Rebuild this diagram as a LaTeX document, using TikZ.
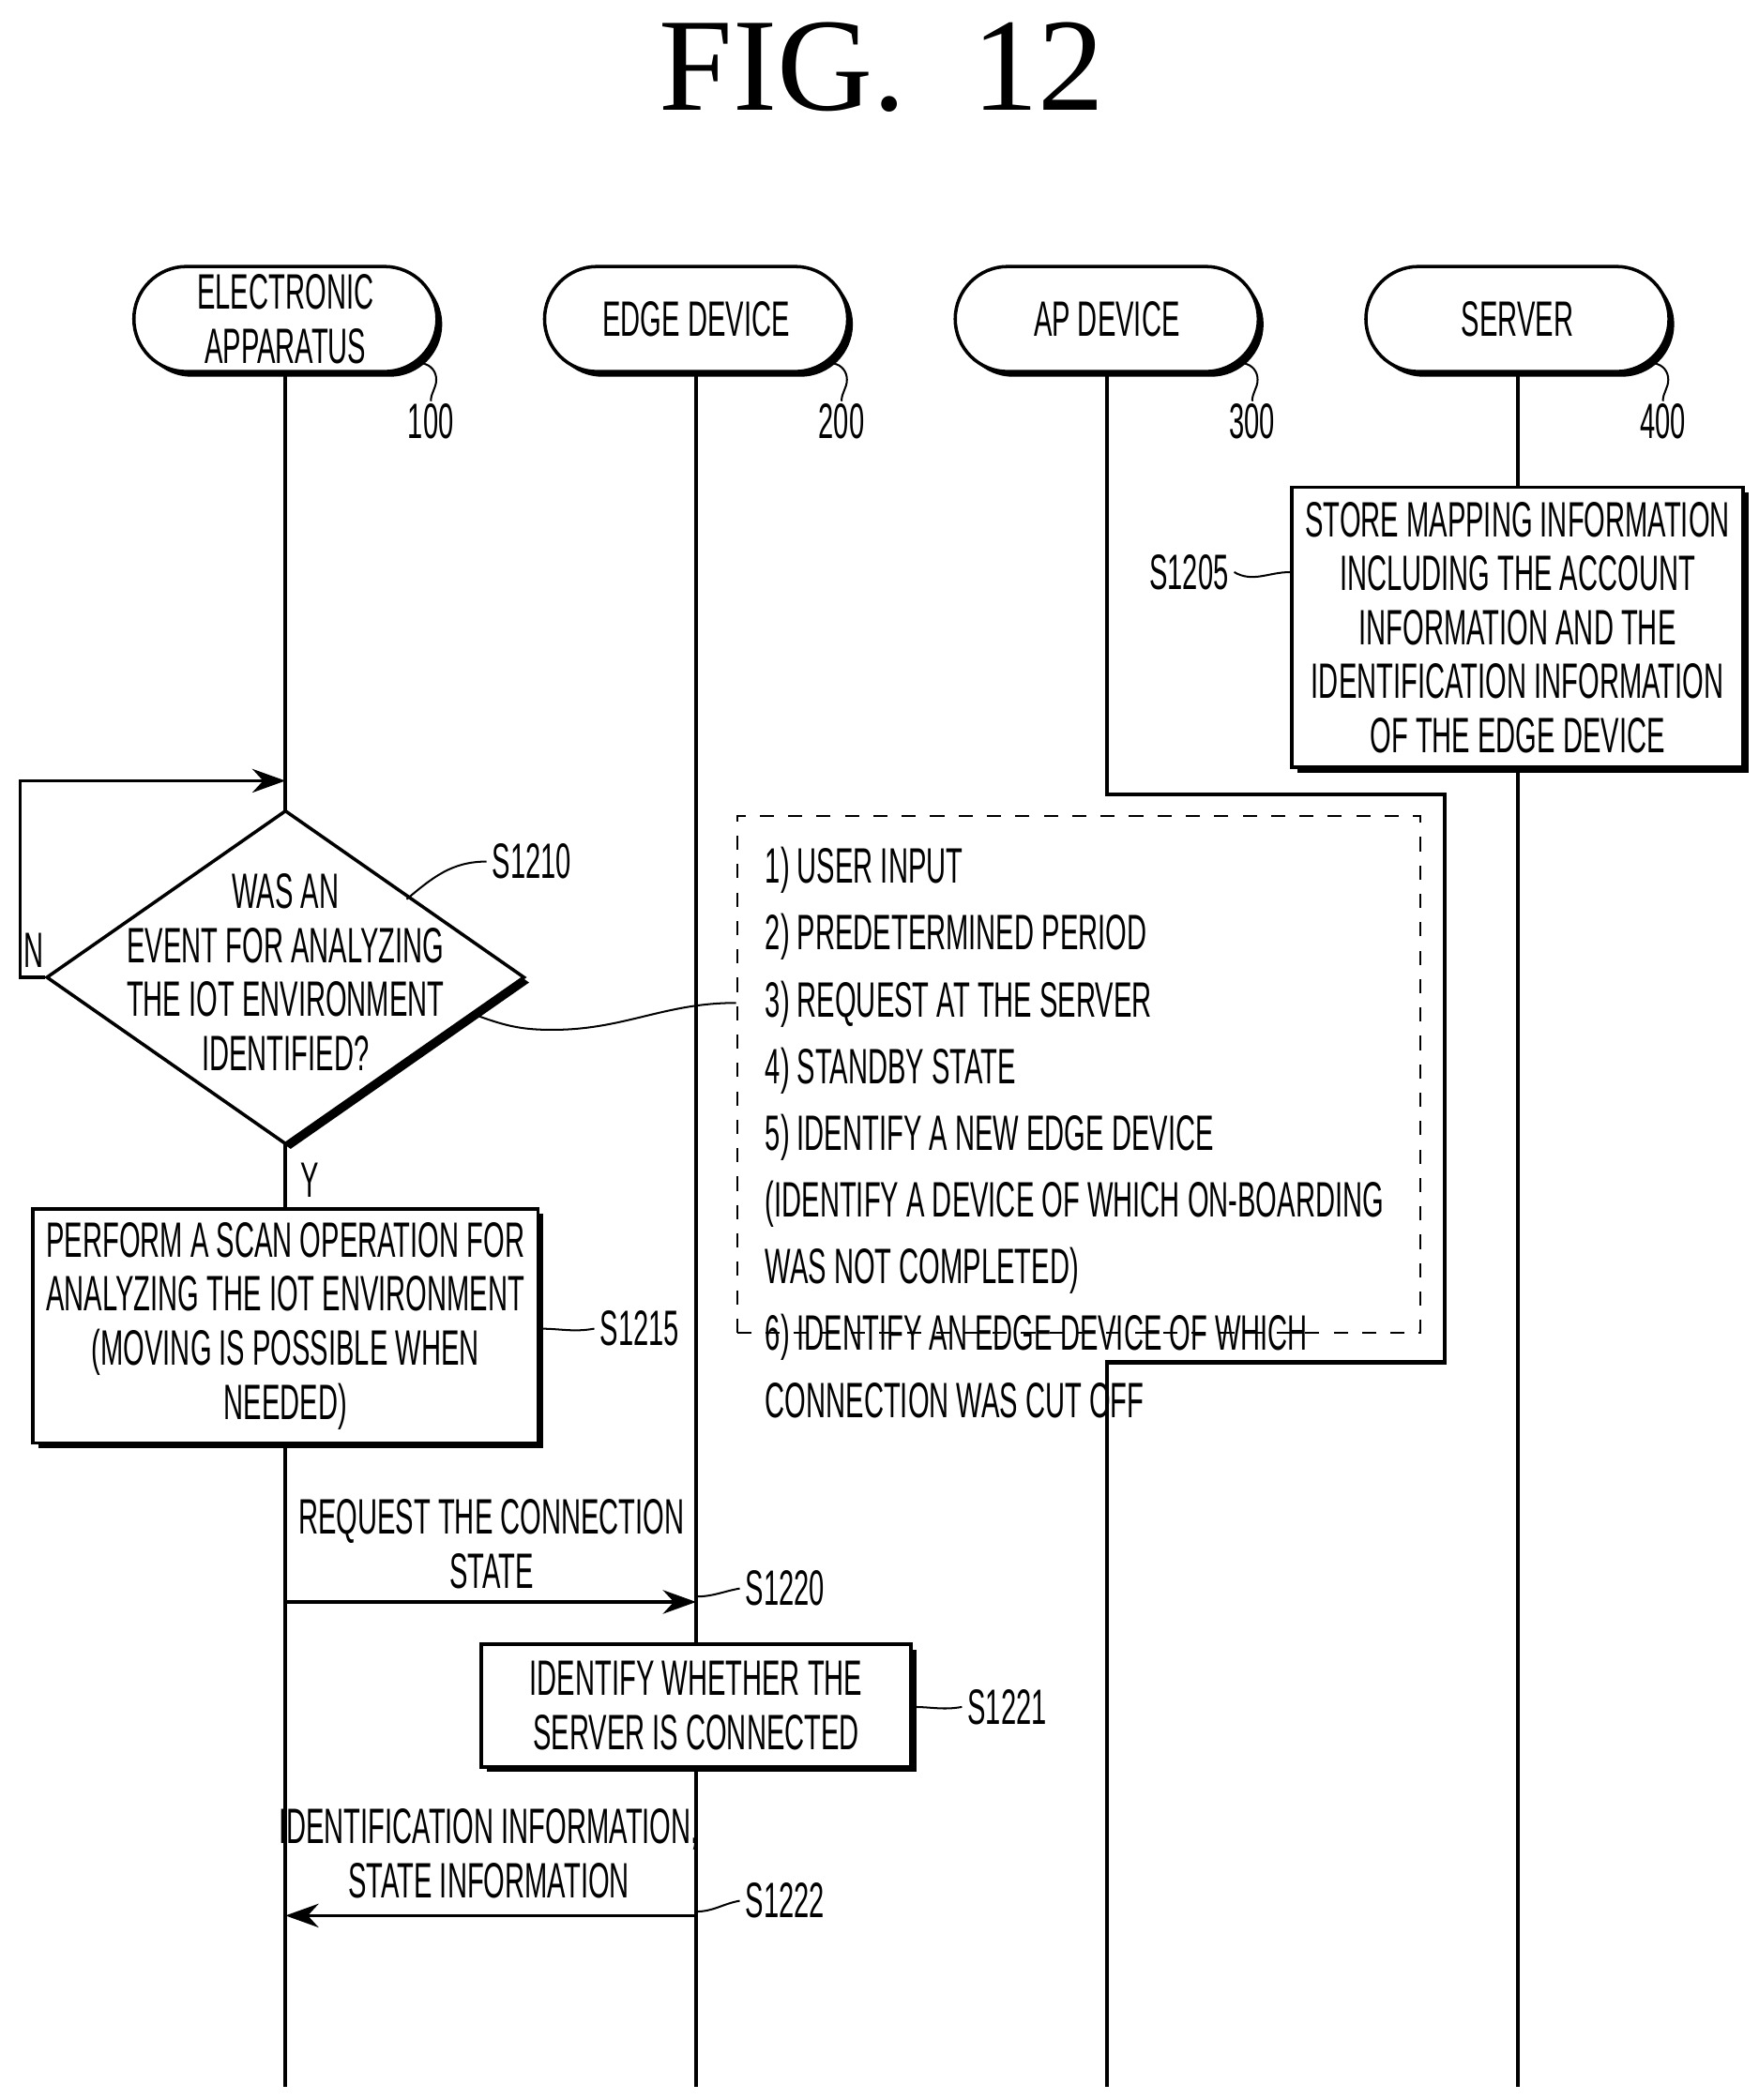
\documentclass[tikz,border=0pt]{standalone}
\usepackage{fontspec}
\setmainfont{Liberation Sans}[FakeStretch=0.55]
\newfontfamily\titlefont{Liberation Serif}
\usetikzlibrary{shapes.misc,shapes.geometric,shadows,positioning,arrows.meta}

\tikzset{
  shade/.style={drop shadow={shadow xshift=1.1pt,shadow yshift=-1.1pt,opacity=1,fill=black}},
  party/.style={rounded rectangle, draw, fill=white, line width=0.7pt, shade,
    minimum width=2.25cm, minimum height=0.78cm, align=center, inner sep=0pt},
  task/.style={draw, fill=white, line width=0.7pt, shade, align=center, inner sep=0pt},
  life/.style={line width=0.8pt},
  lead/.style={line width=0.4pt},
  msg/.style={-{Stealth[length=7pt,width=5pt]}, line width=0.7pt},
  lbl/.style={inner sep=1pt}
}

\begin{document}
\begin{tikzpicture}[x=0.01cm,y=-0.01cm,font=\fontsize{10.5}{11.4}\selectfont]
  \useasboundingbox (0,0) rectangle (1306,1560);
  \node[font=\titlefont\fontsize{28}{30}\selectfont] (title) at (655,50) {FIG.\ \ 12};

  % parties
  \node[party] (elec)   at (212,237) {ELECTRONIC\\APPARATUS};
  \node[party] (edge)   at (517,237) {EDGE DEVICE};
  \node[party] (ap)     at (822,237) {AP DEVICE};
  \node[party] (server) at (1127,237) {SERVER};
  \foreach \p/\x/\n in {elec/212/100,edge/517/200,ap/822/300,server/1127/400}{
    \node[lbl] (\p num) at (\x+108,313) {\n};
    \draw[lead] (\x+102,270) to[out=-10,in=90] (\x+112,282) to[out=-90,in=90] (\x+108,298);
  }

  % lifelines
  \coordinate (elecend) at (212,1550);
  \coordinate (edgeend) at (517,1550);
  \coordinate (serverend) at (1127,1550);
  \draw[life] (elec.south) -- (elecend);
  \draw[life] (edge.south) -- (edgeend);
  \draw[life] (server.south) -- (serverend);
  \draw[life] (ap.south) -- (822,590) -- (1073,590) -- (1073,1012) -- (822,1012) -- (822,1550);

  % S1205
  \node[task, minimum width=3.35cm, minimum height=2.08cm] (store) at (1127,466)
    {STORE MAPPING INFORMATION\\INCLUDING THE ACCOUNT\\INFORMATION AND THE\\IDENTIFICATION INFORMATION\\OF THE EDGE DEVICE};
  \node[lbl] (s1205) at (883,425) {S1205};
  \draw[lead] (s1205.east) to[out=-30,in=180] (store.west |- s1205);

  % S1210
  \node[diamond, draw, fill=white, line width=0.7pt, shade, minimum width=3.55cm,
    minimum height=2.48cm, inner sep=0pt] (event) at (212,726) {};
  \node[align=center] (eventtxt) at (212,722)
    {WAS AN\\EVENT FOR ANALYZING\\THE IOT ENVIRONMENT\\IDENTIFIED?};
  \coordinate (loopa) at (15,726);
  \coordinate (loopb) at (15,580);
  \draw[msg] (event.west) -- (loopa) -- (loopb) -- (212,580);
  \node[lbl] (nlbl) at (25,706) {N};
  \node[lbl] (ylbl) at (230,877) {Y};
  \node[lbl] (s1210) at (395,640) {S1210};
  \draw[lead] (s1210.west) to[out=180,in=40] (302,668);

  % conditions
  \node[draw, dashed, line width=0.4pt, minimum width=5.07cm, minimum height=3.84cm] (cond) at (801,798) {};
  \node[anchor=north west, align=left, font=\fontsize{10.5}{14.1}\selectfont] (condtxt) at (556,617)
    {1) USER INPUT\\2) PREDETERMINED PERIOD\\3) REQUEST AT THE SERVER\\4) STANDBY STATE\\
     5) IDENTIFY A NEW EDGE DEVICE\\(IDENTIFY A DEVICE OF WHICH ON-BOARDING\\WAS NOT COMPLETED)\\
     6) IDENTIFY AN EDGE DEVICE OF WHICH\\CONNECTION WAS CUT OFF};
  \draw[lead] (356,755) to[out=-20,in=180] (410,765) to[out=0,in=180] (cond.west |- 0,745);

  % S1215
  \node[task, minimum width=3.75cm, minimum height=1.74cm] (scan) at (212,985)
    {PERFORM A SCAN OPERATION FOR\\ANALYZING THE IOT ENVIRONMENT\\(MOVING IS POSSIBLE WHEN\\NEEDED)};
  \node[lbl] (s1215) at (475,987) {S1215};
  \draw[lead] (s1215.west) to[out=190,in=0] (scan.east |- s1215);

  % S1220
  \coordinate (reqa) at (212,1190);
  \coordinate (reqb) at (517,1190);
  \draw[msg] (reqa) -- (reqb);
  \node[align=center] (reqtxt) at (365,1147) {REQUEST THE CONNECTION\\STATE};
  \node[lbl] (s1220) at (583,1180) {S1220};
  \draw[lead] (s1220.west) to[out=190,in=0] (517,1186);

  % S1221
  \node[task, minimum width=3.19cm, minimum height=0.91cm] (check) at (517,1267)
    {IDENTIFY WHETHER THE\\SERVER IS CONNECTED};
  \node[lbl] (s1221) at (748,1268) {S1221};
  \draw[lead] (s1221.west) to[out=190,in=0] (check.east |- s1221);

  % S1222
  \coordinate (resa) at (517,1423);
  \coordinate (resb) at (212,1423);
  \draw[msg] (resa) -- (resb);
  \node[align=center] (restxt) at (363,1377) {IDENTIFICATION INFORMATION,\\STATE INFORMATION};
  \node[lbl] (s1222) at (583,1412) {S1222};
  \draw[lead] (s1222.west) to[out=190,in=0] (517,1420);
\end{tikzpicture}
\end{document}
